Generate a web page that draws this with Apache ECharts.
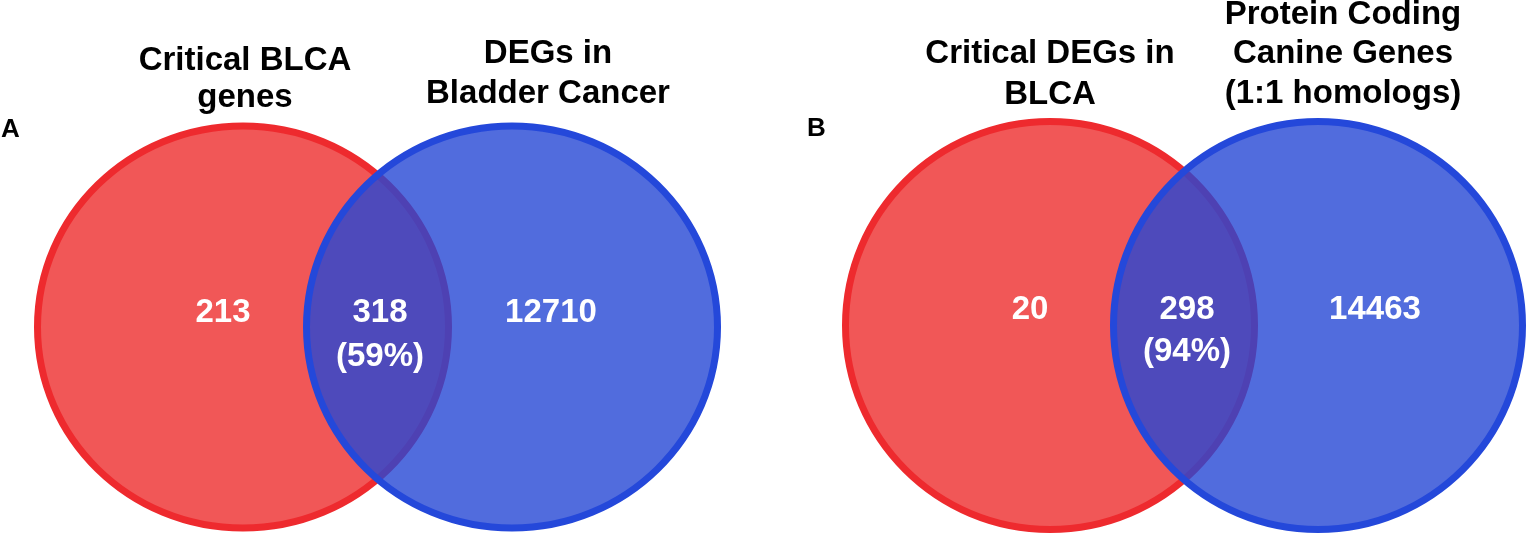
<!DOCTYPE html>
<html>
<head>
<meta charset="utf-8">
<script src="https://cdn.jsdelivr.net/npm/echarts@6/dist/echarts.min.js"></script>
<style>
  html, body { margin: 0; padding: 0; background: #fff; }
  #chart { width: 1528px; height: 538px; }
</style>
</head>
<body>
<div id="chart"></div>
<script>
// 两组韦恩图的数据
let panelLabels = ['A', 'B']
let leftSetNames = [['Critical BLCA', 'genes'], ['Critical DEGs in', 'BLCA']]
let rightSetNames = [['DEGs in', 'Bladder Cancer'], ['Protein Coding', 'Canine Genes', '(1:1 homologs)']]
let leftOnly = [213, 20]
let overlap = [318, 298]
let overlapPct = [59, 94]
let rightOnly = [12710, 14463]

// 版面（像素坐标系，跟随坐标轴换算）
let layout = [
  { label: [1, 130], cy: 327, rx: 205.5, ry: 201, red: 243, blue: 512, numY: 313, pctY: 357,
    leftNumX: 223, midX: 380, rightNumX: 551,
    leftTitle: { x: 245, y: 97.5, gap: 37 }, rightTitle: { x: 548, y: 93.5, gap: 40 } },
  { label: [807, 129], cy: 325.5, rx: 204.5, ry: 204, red: 1050, blue: 1318, numY: 310, pctY: 352,
    leftNumX: 1030, midX: 1187, rightNumX: 1375,
    leftTitle: { x: 1050, y: 94.5, gap: 41 }, rightTitle: { x: 1343, y: 93.5, gap: 39.5 } }
]

let font = "'Liberation Sans', Arial, Helvetica, sans-serif"

function textEl(api, x, y, str, color, size, align) {
  let p = api.coord([x, y])
  return {
    type: 'text',
    style: {
      text: str,
      x: p[0],
      y: p[1],
      fill: color,
      fontSize: size,
      fontWeight: 'bold',
      fontFamily: font,
      align: align || 'center',
      verticalAlign: 'middle'
    }
  }
}

function titleEls(api, lines, t) {
  let els = []
  for (let i = 0; i < lines.length; i++) {
    let y = t.y - (lines.length - 1 - i) * t.gap
    els.push(textEl(api, t.x, y, lines[i], '#000', 33))
  }
  return els
}

function renderVenn(params, api) {
  let i = api.value(0)
  let L = layout[i]
  let size = api.size([L.rx, L.ry])
  let cRed = api.coord([L.red, L.cy])
  let cBlue = api.coord([L.blue, L.cy])
  let children = [
    {
      type: 'ellipse',
      shape: { cx: cRed[0], cy: cRed[1], rx: size[0], ry: size[1] },
      style: { fill: '#F15757', stroke: '#EE2A2E', lineWidth: 7 }
    },
    {
      type: 'ellipse',
      shape: { cx: cBlue[0], cy: cBlue[1], rx: size[0], ry: size[1] },
      style: { fill: 'rgba(38,71,212,0.8)', stroke: '#2448DA', lineWidth: 7 }
    },
    textEl(api, L.leftNumX, L.numY, String(leftOnly[i]), '#fff', 33),
    textEl(api, L.midX, L.numY, String(overlap[i]), '#fff', 33),
    textEl(api, L.midX, L.pctY, '(' + overlapPct[i] + '%)', '#fff', 33),
    textEl(api, L.rightNumX, L.numY, String(rightOnly[i]), '#fff', 33),
    textEl(api, L.label[0], L.label[1], panelLabels[i], '#000', 26, 'left')
  ]
  children = children.concat(titleEls(api, leftSetNames[i], L.leftTitle))
  children = children.concat(titleEls(api, rightSetNames[i], L.rightTitle))
  return { type: 'group', children: children }
}

let myChart = echarts.init(document.getElementById('chart'))
let option = {
  animation: false,
  backgroundColor: '#fff',
  grid: { left: 0, right: 0, top: 0, bottom: 0 },
  xAxis: { type: 'value', min: 0, max: 1528, show: false },
  yAxis: { type: 'value', min: 0, max: 538, inverse: true, show: false },
  series: [{
    type: 'custom',
    renderItem: renderVenn,
    data: panelLabels.map((p, i) => [i])
  }]
}
myChart.setOption(option)
window.addEventListener('resize', function () {
  myChart.resize()
})
</script>
</body>
</html>
